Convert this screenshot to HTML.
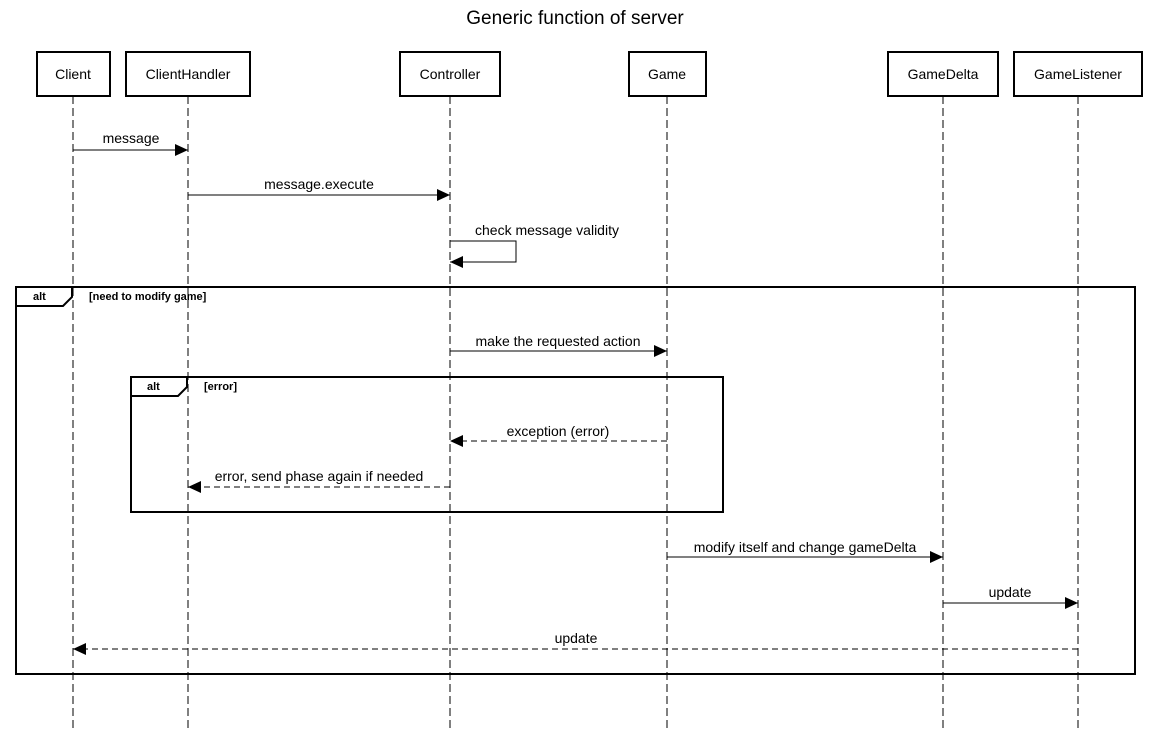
<!DOCTYPE html>
<html><head><style>body{margin:0;background:#fff}svg{display:block}text{font-family:"Liberation Sans",Arial,sans-serif}</style></head><body>
<svg width="1151" height="731" viewBox="0 0 1151 731" xmlns="http://www.w3.org/2000/svg">
<defs><marker id="a" markerWidth="14" markerHeight="12" refX="13" refY="6" orient="auto" markerUnits="userSpaceOnUse"><path d="M0,0 L13,6 L0,12 Z" fill="#000"/></marker></defs>
<text x="575" y="24" font-size="19" text-anchor="middle">Generic function of server</text>
<g stroke="#000" stroke-width="1" stroke-dasharray="8,4" fill="none">
<line x1="73" y1="96" x2="73" y2="731"/><line x1="188" y1="96" x2="188" y2="731"/><line x1="450" y1="96" x2="450" y2="731"/><line x1="667" y1="96" x2="667" y2="731"/><line x1="943" y1="96" x2="943" y2="731"/><line x1="1078" y1="96" x2="1078" y2="731"/>
</g>
<g stroke="#000" stroke-width="2" fill="#fff">
<rect x="37" y="52" width="73" height="44"/><rect x="126" y="52" width="124" height="44"/><rect x="400" y="52" width="100" height="44"/><rect x="629" y="52" width="77" height="44"/><rect x="888" y="52" width="110" height="44"/><rect x="1014" y="52" width="128" height="44"/>
</g>
<g font-size="14" text-anchor="middle">
<text x="73" y="79">Client</text><text x="188" y="79">ClientHandler</text><text x="450" y="79">Controller</text><text x="667" y="79">Game</text><text x="943" y="79">GameDelta</text><text x="1078" y="79">GameListener</text>
</g>
<g stroke="#000" stroke-width="2" fill="none">
<rect x="16" y="287" width="1119" height="387"/><path d="M16,306 H63 L72,297 V287"/>
<rect x="131" y="377" width="592" height="135"/><path d="M131,396 H178 L187,387 V377"/>
</g>
<g font-size="11" font-weight="bold"><text x="33" y="300">alt</text><text x="89" y="300">[need to modify game]</text><text x="147" y="390">alt</text><text x="204" y="390">[error]</text></g>
<g stroke="#000" stroke-width="1" fill="none" marker-end="url(#a)">
<line x1="73" y1="150" x2="188" y2="150"/>
<line x1="188" y1="195" x2="450" y2="195"/>
<path d="M450,241 H516 V262 H450"/>
<line x1="450" y1="351" x2="667" y2="351"/>
<line x1="667" y1="441" x2="450" y2="441" stroke-dasharray="6,4"/>
<line x1="450" y1="487" x2="188" y2="487" stroke-dasharray="6,4"/>
<line x1="667" y1="557" x2="943" y2="557"/>
<line x1="943" y1="603" x2="1078" y2="603"/>
<line x1="1078" y1="649" x2="73" y2="649" stroke-dasharray="6,4"/>
</g>
<g font-size="14" text-anchor="middle">
<text x="131" y="143">message</text><text x="319" y="189">message.execute</text><text x="547" y="235">check message validity</text><text x="558" y="346">make the requested action</text><text x="558" y="436">exception (error)</text><text x="319" y="481">error, send phase again if needed</text><text x="805" y="552">modify itself and change gameDelta</text><text x="1010" y="597">update</text><text x="576" y="643">update</text>
</g>
</svg>
</body></html>
